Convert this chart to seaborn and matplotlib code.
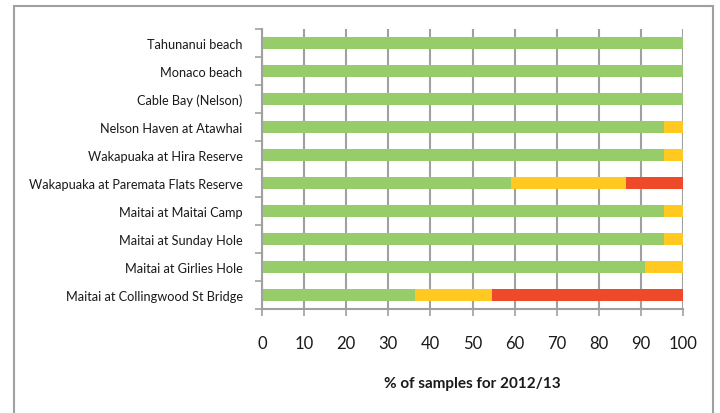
import numpy as np
import pandas as pd
import matplotlib.pyplot as plt
import seaborn as sns
from matplotlib.patches import Rectangle

# Data
sites = [
    "Tahunanui beach",
    "Monaco beach",
    "Cable Bay (Nelson)",
    "Nelson Haven at Atawhai",
    "Wakapuaka at Hira Reserve",
    "Wakapuaka at Paremata Flats Reserve",
    "Maitai at Maitai Camp",
    "Maitai at Sunday Hole",
    "Maitai at Girlies Hole",
    "Maitai at Collingwood St Bridge",
]
green_pct = [100, 100, 100, 95.5, 95.5, 59.1, 95.5, 95.5, 90.9, 36.4]
yellow_pct = [0, 0, 0, 4.5, 4.5, 27.3, 4.5, 4.5, 9.1, 18.2]
red_pct = [0, 0, 0, 0, 0, 13.6, 0, 0, 0, 45.4]

green_col = "#97CC6A"
yellow_col = "#FFC922"
red_col = "#EE4A2A"
grid_col = "#A0A0A0"

df = pd.DataFrame({
    "site": sites,
    "green": green_pct,
    "yellow": yellow_pct,
    "red": red_pct,
})
df["cum_yellow"] = df["green"] + df["yellow"]
df["cum_red"] = df["cum_yellow"] + df["red"]

sns.set_theme(style="white")
plt.rcParams["font.family"] = ["Lato", "DejaVu Sans"]

fig = plt.figure(figsize=(7.2, 4.14), dpi=100)
ax = fig.add_axes([262 / 720, 1 - 310 / 414, 421 / 720, 280 / 414])

# stacked bars: draw cumulative totals back to front
for col, color in [("cum_red", red_col), ("cum_yellow", yellow_col), ("green", green_col)]:
    sns.barplot(
        data=df,
        x=col,
        y="site",
        order=sites,
        color=color,
        width=0.4,
        orient="h",
        saturation=1,
        linewidth=0,
        ax=ax,
        zorder=2,
    )

ax.set_xlim(0, 100)
ax.set_ylim(len(sites) - 0.5, -0.5)
ax.set_xticks(np.arange(0, 101, 10))
ax.xaxis.grid(True, color=grid_col, linewidth=1.5, zorder=0)
ax.set_axisbelow(True)

# category boundary ticks on the y axis
ax.set_yticks(np.arange(-0.5, len(sites), 1), minor=True)
ax.tick_params(axis="y", which="major", length=0, pad=14, labelsize=9.2,
               labelcolor="#1a1a1a")
ax.tick_params(axis="y", which="minor", length=5, width=1.2, color=grid_col,
               left=True)
ax.tick_params(axis="x", which="major", length=5, width=1.2, color=grid_col,
               bottom=True, pad=14, labelsize=12, labelcolor="#1a1a1a")

for side in ["top", "right"]:
    ax.spines[side].set_visible(False)
for side in ["left", "bottom"]:
    ax.spines[side].set_color(grid_col)
    ax.spines[side].set_linewidth(1.5)

ax.set_ylabel("")
ax.set_xlabel("% of samples for 2012/13", fontsize=11, fontweight="bold",
              labelpad=18, color="#1a1a1a")

# outer chart border
fig.patches.append(Rectangle(
    (14 / 720, -0.1), (713 - 14) / 720, 1.1 - 7 / 414,
    transform=fig.transFigure, fill=False, edgecolor="#A0A0A0",
    linewidth=1.5,
))

fig.savefig("out.png", dpi=100)
plt.close(fig)
